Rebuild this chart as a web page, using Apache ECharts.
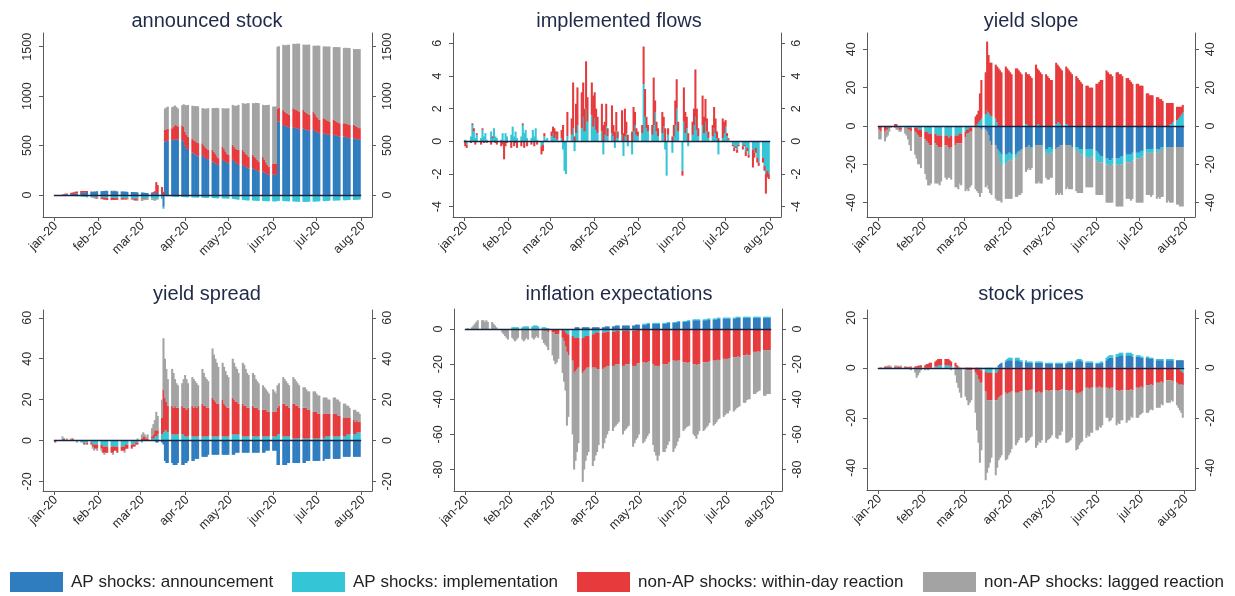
<!DOCTYPE html>
<html><head><meta charset="utf-8">
<script src="https://cdn.jsdelivr.net/npm/echarts@6/dist/echarts.min.js"></script>
<style>html,body{margin:0;padding:0;background:#fff}#c{width:1235px;height:596px}</style>
</head><body><div id="c"></div><script>
// ---------- categories / tick labels ----------
const FIRST_BUSINESS_DAY = '2020-01-02';
const LAST_BUSINESS_DAY = '2020-07-31';
const AXIS_FIRST_DAY = '2019-12-25';
const AXIS_LAST_DAY = '2020-08-08';
const monthTickDays = ['2020-01-01','2020-02-01','2020-03-01','2020-04-01','2020-05-01','2020-06-01','2020-07-01','2020-08-01'];
const monthTickLabels = ['jan-20','feb-20','mar-20','apr-20','may-20','jun-20','jul-20','aug-20'];
const SERIES_NAMES = ['AP shocks: announcement','AP shocks: implementation','non-AP shocks: within-day reaction','non-AP shocks: lagged reaction'];

// ---------- series values (one value per business day, Jan 2 - Jul 31 2020) ----------
// announced stock
const stockAnn = [0,0,
0,2,3,5,5, 8,10,12,14,15, 20,22,25,28,30, 30,32,35,35,38,
38,40,40,42,40, 40,38,40,38,36, 35,35,34,33,32, 30,30,28,28,26,
25,24,22,20,20, 20,18,18,30,20, 20,-120,540,545,550, 555,560,560,565,560,
555,540,500,470,455, 430,420,410,400,390, 405,390,375,365,355, 338,330,320,312,304,
355,345,335,328,321, 355,345,330,315,304, 304,295,285,278,270, 270,262,255,245,236,
236,228,220,210,203, 210,205,200,740,745, 709,700,695,690,686, 686,680,675,670,665,
670,665,660,655,650, 659,650,640,632,625, 625,620,615,610,608, 608,604,600,595,591,
591,588,584,578,574, 574,570,566,561,557];
const stockImp = [0,0,
0,-2,-3,-5,-5, -8,-10,-10,-12,-12, -15,-15,-18,-18,-20, -20,-22,-22,-25,-25,
-25,-25,-28,-28,-30, -30,-30,-30,-32,-32, -32,-32,-34,-34,-35, -35,-35,-36,-36,-36,
-36,-36,-37,-37,-38, -38,-38,-40,-40,-40, -40,-20,-10,-12,-14, -15,-16,-18,-18,-20,
-20,-22,-22,-24,-24, -25,-25,-26,-26,-28, -28,-28,-30,-30,-30, -30,-32,-32,-34,-34,
-35,-35,-36,-36,-38, -40,-42,-44,-46,-48, -50,-52,-54,-55,-56, -56,-58,-58,-60,-60,
-60,-62,-62,-64,-64, -65,-65,-66,-60,-60, -62,-62,-64,-64,-65, -66,-66,-68,-68,-70,
-70,-70,-70,-68,-68, -68,-66,-66,-64,-64, -62,-62,-60,-60,-58, -58,-56,-56,-55,-55,
-54,-54,-52,-52,-50, -50,-50,-48,-48,-46];
const stockWithin = [0,0,
0,2,5,8,10, 12,15,15,18,20, 20,18,15,12,10, 5,0,-5,-10,-12,
-15,-18,-20,-20,-22, -22,-20,-20,-18,-18, -15,-15,-12,-12,-10, -10,-12,-15,-15,-12,
-10,-8,-5,-5,-2, 5,10,20,100,80, 60,30,119,120,122, 120,130,150,140,135,
150,148,140,138,135, 136,134,135,133,135, 118,113,108,104,101, 118,105,95,80,68,
135,120,105,92,84, 152,140,135,145,152, 152,140,130,125,118, 135,125,118,110,102,
152,130,110,95,84, 110,112,115,135,135, 152,145,135,130,125, 192,188,185,182,180,
190,180,170,165,160, 186,170,155,145,135, 152,148,142,138,135, 152,148,142,138,135,
135,137,134,136,135, 135,130,126,122,119];
const stockLag = [0,0,
0,0,1,1,2, 2,3,3,2,2, 1,0,-2,-3,-5, -5,-8,-6,-5,-4,
-3,-2,0,2,3, 3,4,5,4,3, 2,2,1,0,0, -2,-5,-8,-10,-12,
-15,-12,-10,-8,-10, -12,-15,-20,-10,-5, 0,5,215,220,222, 214,205,195,185,180,
203,230,270,300,321, 338,345,355,365,372, 355,372,390,405,422, 422,445,465,490,506,
388,410,435,455,473, 405,420,435,445,456, 473,490,505,525,541, 524,540,560,575,591,
524,550,580,605,625, 574,578,580,625,625, 659,670,685,700,709, 652,660,670,680,685,
662,675,690,700,712, 665,690,715,735,750, 726,735,745,752,760, 736,745,755,762,770,
760,765,770,774,777, 767,775,785,792,800];

// implemented flows
const flowImp = [0.1,-0.2,
0.3,1.0,0.6,0.2,0.4, 0.2,0.7,0.3,0.5,0.1, 0.6,0.2,0.8,0.3,0.2, 0.1,0.5,0.0,0.5,0.3,
0.4,0.9,0.3,0.6,0.2, 0.3,1.0,0.5,0.7,0.2, 0.2,0.7,0.3,0.8,0.1, -0.3,-0.2,0.3,0.1,0.2,
0.3,0.5,0.2,0.4,0.1, 0.2,-0.5,-1.8,-2.0,0.3, 0.4,0.8,-0.6,0.5,1.0, 0.8,1.5,0.6,2.0,1.2,
1.6,0.9,1.4,0.7,0.5, 0.6,-0.8,0.4,0.9,0.3, 0.5,0.3,-0.4,0.6,0.2, 0.4,-0.9,0.3,0.5,-0.3,
-0.8,0.6,1.0,0.4,0.3, 0.5,3.5,1.5,0.8,0.6, 0.4,1.0,1.8,0.6,0.3, 0.5,0.9,-0.5,-2.1,0.4,
-0.7,0.3,1.0,2.0,0.6, -1.8,1.2,0.5,0.8,-0.3, 0.4,1.0,1.5,0.7,0.3, 1.0,0.5,1.2,0.6,0.2,
0.3,0.8,0.5,0.2,-0.8, 0.2,0.5,0.9,0.3,0.1, -0.2,-0.4,-0.3,-0.5,-0.2, -0.3,-0.2,-0.6,-0.4,-0.8,
-0.5,-0.7,-0.4,-1.0,-1.3, -1.0,-1.5,-2.0,-1.8,-2.0];
const flowWithin = [-0.3,-0.2,
-0.1,0.1,0.2,-0.2,0.1, -0.2,0.1,-0.1,0.0,-0.1, -0.2,0.1,0.0,-0.1,-0.2, -0.3,-0.2,-1.1,-0.3,-0.1,
-0.4,0.0,-0.3,-0.1,-0.4, -0.3,0.1,-0.4,0.0,-0.3, -0.2,0.0,-0.3,0.0,-0.2, -0.5,-0.4,0.2,0.0,0.0,
0.3,0.4,0.6,0.2,0.5, 0.5,1.0,0.0,0.0,1.5, 1.0,2.8,0.3,1.8,2.3, 2.2,2.1,1.4,2.9,1.5,
2.0,1.9,1.6,1.3,1.0, 1.7,1.0,0.8,1.4,0.5, 1.7,0.7,0.6,1.2,0.4, 1.5,0.5,1.7,0.7,0.4,
0.6,1.5,0.8,0.4,0.3, 0.5,2.3,1.7,0.7,0.4, 0.6,2.9,0.7,0.6,0.5, 1.3,0.6,0.8,0.0,0.4,
0.3,0.7,1.5,1.8,0.6, -0.3,2.1,1.3,0.7,0.5, 0.8,1.0,2.9,1.3,0.5, 1.8,1.0,1.4,0.8,0.4,
0.7,1.3,0.9,0.4,0.2, 1.2,0.7,0.4,0.2,0.1, -0.1,-0.2,-0.1,-0.2,-0.1, -0.2,-0.1,-0.3,-0.2,-0.2,
-1.1,-0.3,-0.3,-0.3,-0.2, -0.3,-0.3,-1.2,-0.4,-0.3];

// yield slope
const slopeAnn = [0,0,
0,0,0,0,0, 0,0,0,0,0, 0,0,0,0,0, 0,0,0,0,0,
0,0,0,0,0, 0,0,0,0,0, 0,0,0,0,0, 0,0,0,0,0,
0,0,0,0,0, 0,0,0,-1,-2, -2,-3,-5,-8,-10, -10,-12,-13,-14,-15,
-15,-15,-14,-14,-15, -15,-14,-13,-13,-12, -11,-11,-10,-11,-11, -10,-10,-10,-10,-10,
-12,-12,-11,-11,-12, -12,-11,-11,-10,-10, -10,-10,-10,-10,-11, -11,-11,-12,-12,-12,
-12,-12,-12,-12,-12, -13,-14,-15,-16,-16, -17,-17,-18,-18,-17, -17,-17,-17,-16,-16,
-15,-15,-15,-15,-14, -14,-14,-14,-13,-13, -12,-12,-12,-12,-12, -12,-12,-12,-11,-11,
-11,-11,-11,-11,-11, -11,-11,-11,-11,-11];
const slopeImp = [0,0,
0,0,-1,0,0, 0,0,0,-1,-1, -1,-1,-1,-1,-1, -1,-1,-2,-2,-2,
-3,-3,-4,-4,-4, -4,-5,-5,-5,-5, -5,-5,-6,-6,-5, -5,-5,-5,-4,-4,
-3,-2,-2,-1,-1, 0,1,2,3,4, 6,8,7,6,5, 4,2,-3,-5,-6,
-5,-4,-4,-3,-3, -2,-2,-1,-1,0, 1,1,0,-1,-1, 0,1,1,0,-1,
-2,-3,-4,-3,-2, 1,2,2,1,0, 1,1,0,0,-1, -1,-2,-2,-3,-3,
-4,-5,-5,-4,-4, -5,-5,-4,-3,-3, -3,-3,-3,-3,-3, -3,-3,-4,-4,-4,
-4,-4,-4,-4,-4, -3,-3,-3,-3,-3, -2,-2,-2,-2,-2, -2,-1,-1,-1,-1,
-1,0,1,1,2, 3,4,5,6,7];
const slopeWithin = [-2,-3,
-3,-2,-1,-1,0, 1,1,0,-1,-1, 0,0,-1,-1,-2, -2,-3,-3,-4,-4,
-4,-5,-5,-6,-6, -5,-5,-6,-6,-6, -5,-5,-5,-6,-6, -5,-4,-4,-5,-5,
-3,-2,-2,-2,-2, 5,5,6,14,20, 22,36,30,27,28, 28,29,30,29,28,
31,30,29,28,27, 30,30,29,28,27, 27,26,27,26,25, 32,29,28,28,27,
27,26,25,24,24, 32,30,29,29,29, 30,29,29,28,27, 26,25,24,23,22,
21,21,20,20,20, 22,22,23,24,24, 29,28,27,27,26, 28,28,27,27,26,
25,25,24,23,22, 22,22,21,21,21, 17,17,16,16,16, 15,15,14,14,13,
12,12,11,11,10, 7,6,5,4,4];
const slopeLag = [-5,-4,
-5,-4,-3,-2,-1, -1,-2,-2,-1,-1, -3,-4,-5,-8,-10, -12,-13,-15,-14,-16,
-18,-20,-22,-21,-20, -21,-20,-19,-20,-18, -17,-18,-16,-15,-17, -22,-23,-24,-21,-22,
-28,-29,-30,-29,-28, -33,-34,-35,-36,-33, -30,-28,-28,-27,-26, -28,-27,-23,-20,-19,
-18,-19,-20,-21,-20, -20,-21,-22,-22,-23, -13,-12,-12,-11,-10, -20,-20,-19,-20,-19,
-13,-13,-13,-13,-13, -24,-24,-25,-25,-26, -23,-22,-23,-23,-21, -22,-22,-21,-20,-20,
-16,-15,-15,-16,-16, -18,-17,-17,-17,-17, -20,-20,-19,-19,-20, -22,-22,-21,-22,-22,
-19,-19,-19,-20,-20, -23,-23,-23,-24,-24, -22,-22,-22,-23,-22, -24,-24,-25,-25,-25,
-28,-28,-29,-29,-29, -30,-30,-31,-31,-31];

// yield spread
const spreadAnn = [0,0,
0,0,0,0,0, 0,0,0,0,0, 0,0,0,0,0, 0,0,0,0,0,
0,0,0,0,0, 0,0,0,0,0, 0,0,0,0,0, 0,0,0,0,0,
0,0,0,0,0, 0,0,0,-1,-1, -1,-2,-10,-11,-11, -11,-12,-12,-12,-11,
-12,-12,-11,-11,-10, -10,-10,-9,-9,-9, -8,-8,-8,-8,-7, -7,-7,-7,-7,-7,
-7,-7,-7,-7,-7, -7,-7,-6,-6,-6, -6,-6,-6,-6,-6, -6,-6,-6,-6,-6,
-6,-6,-5,-5,-5, -5,-5,-5,-12,-12, -12,-12,-12,-11,-11, -11,-11,-11,-11,-11,
-11,-11,-10,-10,-10, -10,-10,-10,-10,-10, -10,-9,-9,-9,-9, -9,-9,-9,-9,-9,
-8,-8,-8,-8,-8, -8,-8,-8,-8,-8];
const spreadImp = [0,0,
0,1,0,0,0, 0,0,0,0,-1, -1,-1,-1,-1,-1, -1,-2,-2,-2,-2,
-2,-3,-3,-3,-3, -3,-3,-3,-3,-3, -3,-3,-3,-2,-2, -2,-2,-2,-1,-1,
-1,0,0,0,0, 1,1,2,2,3, 3,4,5,5,4, 3,3,3,3,3,
3,3,2,2,2, 2,2,2,2,2, 2,2,2,2,2, 2,2,2,2,2,
2,2,2,2,2, 3,3,3,3,3, 2,2,2,2,2, 2,2,2,2,2,
2,2,2,2,2, 2,2,2,3,3, 2,2,2,2,2, 1,1,1,1,1,
1,1,1,1,1, 1,1,1,1,1, 1,2,2,2,2, 2,2,2,2,2,
2,2,3,3,3, 3,3,4,4,4];
const spreadWithin = [-1,0,
0,0,1,0,0, 0,1,0,0,0, 0,0,-1,0,-1, -1,-1,-2,-2,-2,
-2,-3,-3,-3,-3, -3,-3,-2,-2,-3, -2,-2,-2,-2,-2, -2,-1,-1,-1,-1,
1,2,2,1,1, 1,2,3,3,2, 8,21,16,14,13, 14,13,14,13,13,
14,13,14,13,14, 15,14,15,14,15, 16,15,15,14,14, 19,18,17,16,16,
18,16,15,14,14, 18,17,16,16,15, 16,15,15,14,14, 15,14,14,14,13,
13,13,13,12,12, 12,12,12,13,14, 16,16,15,15,14, 17,17,16,16,15,
15,15,15,14,14, 13,13,13,12,12, 12,11,11,11,11, 11,11,11,10,10,
9,9,8,8,8, 7,6,6,5,5];
const spreadLag = [0,0,
0,1,0,0,1, 1,0,0,0,0, 0,0,0,-1,0, 0,-1,-1,0,-1,
-1,0,-1,0,0, 0,-1,0,0,0, 0,0,-1,0,0, 0,0,0,0,1,
2,2,1,1,2, 4,5,5,9,7, 9,25,19,16,13, 18,17,13,12,11,
11,14,16,15,12, 14,14,12,12,10, 17,16,14,14,13, 24,22,21,20,18,
18,18,17,16,15, 19,18,17,16,15, 20,20,18,17,16, 16,16,14,13,13,
12,11,10,10,9, 11,10,9,11,11, 13,12,12,11,11, 13,12,12,11,11,
10,10,9,9,9, 10,10,9,9,9, 8,8,8,7,7, 8,8,7,8,7,
7,7,6,6,5, 5,6,4,5,4];

// inflation expectations
const inflAnn = [0,0,
0,0,0,0,0, 0,0,0,0,0, 0,0,0,0,0, 0,0,0,0,0,
0,0,0,0,0, 0,0,0,0,0, 0,0,0,0,0, 0,0,0,0,0,
0,0,0,0,0, 0,0,0,0,0, 0,0,1,1,1, 1,1,1,1,1,
1,1,1,1,1, 1,1,1.5,1.5,1.5, 1.5,1.5,2,2,2, 2,2,2,2,2,
2,2,2.5,2.5,2.5, 2.5,2.5,2.5,3,3, 3,3,3,3,3, 3,3,3,3.5,3.5,
3.5,3.5,3.5,4,4, 4,4,4,4.5,4.5, 5,5,5,5,5, 5,5,5,5.5,5.5,
5.5,5.5,5.5,6,6, 6,6,6,6,6, 6,6,6.5,6.5,6.5, 6.5,6.5,6.5,6.5,6.5,
6.5,6.5,6.5,6.5,6.5, 6.5,6.5,6.5,6.5,6.5];
const inflImp = [0,0,
0,0,0,0,0, 0,0,0,0,0, 0,0,0,0,0, 0,0,0,0,0,
1,1,1,1,1, 1,1.5,1.5,1.5,1.5, 1.5,2,2,2,1.5, 1,1,1,0.5,0.5,
0,0,0,0,0, 0,-1,-2,-3,-3, -4,-5,-5,-5,-5, -5,-5,-4,-4,-4,
-3,-3,-2,-2,-2, -2,-2,-2,-1.5,-1.5, -1.5,-1.5,-1.5,-1,-1, -1,-1,-1,-1,-1,
-1,-1,-1,-0.5,-0.5, 0.5,0.5,0.5,0.5,0.5, 0.5,0.5,0.5,0.5,0.5, 0.5,0.5,0.5,0.5,0.5,
0.5,0.5,0.5,0.5,0.5, 0.5,0.5,0.5,0.5,0.5, 0.5,0.5,0.5,0.5,0.5, 0.5,0.5,0.5,0.5,0.5,
0.5,0.5,0.5,0.5,0.5, 0.5,0.5,0.5,0.5,0.5, 0.5,0.5,0.5,0.5,0.5, 0.5,0.5,0.5,0.5,0.5,
0.5,0.5,0.5,0.5,0.5, 0.5,0.5,0.5,0.5,0.5];
const inflWithin = [0,0,
0,0,0,0,0, 0,0,0,0,0, 0,0,0,0,0, 0,0,0,0,0,
0,0,0,0,0, 0,0,0,0,0, 0,0,0,0,0, 0,-1,-1,-1,-2,
-2,-2,-3,-3,-3, -5,-6,-8,-10,-12, -14,-20,-19,-18,-17, -20,-19,-19,-18,-18,
-19,-19,-20,-21,-21, -21,-20,-20,-19.5,-19.5, -19.5,-19.5,-18.5,-19,-19, -20,-20,-19,-19,-19,
-20,-20,-20,-19,-19, -19,-19,-19.5,-19,-18.5, -20,-21,-21,-21,-21, -20,-20,-20,-20,-19,
-18,-18,-18.5,-18,-18, -19,-19,-19,-19.5,-19, -20,-20,-20.5,-20,-20, -19,-19,-19,-19,-18.5,
-18,-18,-18,-17.5,-18, -17,-17,-17,-17,-16.5, -16,-16,-16,-15.5,-16, -15,-15,-14.5,-15,-15,
-13,-13,-13,-12.5,-13, -12,-12,-12,-12,-12];
const inflLag = [0,0.5,
1,2,3,4,5, 5,5,4,5,4, 4,3,2,1,0, -2,-3,-4,-5,-6,
-5,-6,-7,-6,-5, -6,-7,-6,-5,-6, -5,-6,-5,-4,-5, -6,-7,-8,-9,-10,
-13,-16,-17,-16,-14, -20,-23,-25,-42,-35, -42,-55,-51,-47,-43, -62,-56,-52,-50,-48,
-56,-53,-50,-47,-43, -45,-43,-40,-39,-37, -37,-35,-35,-34,-33, -39,-37,-37,-36,-35,
-46,-44,-42,-42.5,-40.5, -46,-45,-43,-42,-41, -46,-49,-51,-54,-51, -50,-50,-48,-46,-45,
-52,-50,-48,-46,-44, -39,-38,-37,-36,-36, -40,-41,-42,-40,-38, -39,-38,-37,-36,-35,
-37,-36,-35,-34,-33, -33,-32,-31,-31,-30, -31,-30,-29,-29,-28, -27,-27,-26,-25,-25,
-24,-24,-23,-23,-22, -26,-26,-25,-25,-25];

// stock prices
const eqAnn = [0,0,
0,0,0,0,0, 0,0,0,0,0, 0,0,0,0,0, 0,0,0,0,0,
0,0,0,0,0, 0,0,0,0,0, 0,0,0,0,0, 0,0,0,0,0,
0,0,0,0,0, 0,0,0,0,0, 0,0,0,0,0, 0,0,1,1.5,2,
2.5,3,3,3,3, 3,3,3,2.5,2.5, 2.5,2,2,2,2, 2,2,2,2,2,
1.5,1.5,1.5,1.5,1.5, 1.5,1.5,1.5,1.5,1.5, 1.5,2,2,2,2, 2.5,3,3,3,2.5,
2,2,2,2,2, 1.5,1.5,1.5,2,2, 3,3.5,4,4,4, 4.5,4.5,5,5,5,
5,5,5,5,4.5, 4.5,4.5,4.5,4,4, 4,4,3.5,3.5,3.5, 3,3,3,3,3,
3,3,3,3,3, 3,3,3,3,3];
const eqImp = [0,0,
0,0,0,0,0, 0,0,0,0,0, 0,0,0,0,0, 0,0,0,0,0,
0,0,0,0,0, 0.5,0.5,1,1,1, 1,1,1,1,0.5, 0.5,0,0,0,0,
0,0,0,0,0, 0,0,-0.5,-1,-1, -1.5,-2,-2,-2,-2, -2,-2,-1,-0.5,0,
0.5,0.5,1,1,1, 1,1,1,0.5,0.5, 0.5,0.5,0.5,0.5,0.5, 0.5,0.5,0.5,0.5,0.5,
0.5,0.5,0.5,0.5,0.5, 0.5,0.5,0.5,0.5,0.5, 0.5,0.5,0.5,0.5,0.5, 0.5,0.5,0.5,0.5,0.5,
0.5,0.5,0.5,0.5,0.5, 0.5,0.5,0.5,0.5,0.5, 1,1,1,1,1, 1,1,1,1,1,
1,1,1,1,1, 0.5,0.5,0.5,0.5,0.5, 0.5,0.5,0.5,0.5,0.5, 0.5,0.5,0.5,0.5,0.5,
0.5,0.5,0.5,0.5,0.5, 0,-0.5,-1,-1.5,-2];
const eqWithin = [0,0.2,
0.3,0.3,0.4,0.5,0.4, 0.4,0.5,0.3,0.4,0.5, 0.4,0.3,0.3,0.4,0.5, 0.5,0.6,0.8,0.9,1,
1,1.5,1.5,2,2, 2,2.5,2.5,2.5,2.5, 2.5,2.5,2.5,2,2, 1.5,1,0.5,0,0,
-0.5,-1,-1,-1,-1, -2,-3,-4,-5,-5, -8,-11,-11,-11,-11, -11,-11,-11,-11,-11,
-10,-10.5,-10,-10,-9.5, -10,-10,-10,-9.5,-9.5, -9,-9.5,-9,-9,-8.5, -10,-10,-9.5,-10,-10,
-9,-9,-9.5,-9,-9, -9,-9.5,-9,-9,-8.5, -9,-9,-9.5,-9,-9, -10,-10.5,-10,-10,-9.5,
-8,-8,-8.5,-8,-8, -8,-8,-7.5,-8,-8, -8,-8,-8.5,-8,-8, -9,-9,-9.5,-9,-9,
-9,-9,-9,-8.5,-9, -8,-8,-8,-7.5,-8, -7,-7,-7,-6.5,-7, -6,-6,-6,-5.5,-6,
-5,-5,-5,-5,-5.5, -6,-6,-6,-5,-5];
const eqLag = [0,0,
0.3,0.5,0.4,0.5,0.3, 0.5,0.4,0.5,0.3,0.4, 0.3,0.2,0,-0.5,-1, -2,-4,-3,-2,-1,
-1,-0.5,-1,-0.5,0, 0,0,0,0,0, 0,0,0,0,-1, -3,-6,-8,-10,-12,
-11,-12,-14,-13,-12, -16,-22,-25.5,-32,-27, -35.5,-29,-27,-25,-23, -30,-27,-25,-24.5,-24,
-27,-26,-25,-24,-23, -21,-20,-19,-18.5,-18.5, -21,-20,-20,-19,-19, -22,-21,-20,-20,-19,
-21,-20,-19,-19,-18, -19,-19,-18,-18,-17, -21,-21,-20,-20,-19, -23,-22,-21,-20,-20,
-20,-19,-19,-18,-18, -17,-17,-16,-16,-15, -12,-12,-13,-13,-12, -14,-13,-13,-12,-12,
-13,-12,-12,-11,-11, -12,-12,-11,-11,-10, -11,-11,-10,-10,-10, -10,-10,-10,-9,-9,
-9,-9,-9,-8,-8, -9,-9.5,-10,-11.5,-13];

// ---------- styling & layout ----------
const FONT = '"Liberation Sans", Arial, Helvetica, sans-serif';
const COLORS = ['#2f7dbf', '#34c6d6', '#e63a3d', '#a3a3a3'];
const AXIS_COLOR = '#5a5a5a', LABEL_COLOR = '#2b2b2b', TITLE_COLOR = '#1f2a48', ZERO_COLOR = '#1b2340';

const panels = [
  {title:'announced stock', data:[stockAnn, stockImp, stockWithin, stockLag], yMin:-223, yMax:1639, yTicks:[0,500,1000,1500], left:43, top:33, width:329, height:184, tx:207, ty:21},
  {title:'implemented flows', data:[null, flowImp, flowWithin, null], yMin:-4.63, yMax:6.63, yTicks:[-4,-2,0,2,4,6], left:453, top:33, width:328, height:184, tx:619, ty:21},
  {title:'yield slope', data:[slopeAnn, slopeImp, slopeWithin, slopeLag], yMin:-47.5, yMax:48.5, yTicks:[-40,-20,0,20,40], left:867, top:33, width:328, height:184, tx:1031, ty:21},
  {title:'yield spread', data:[spreadAnn, spreadImp, spreadWithin, spreadLag], yMin:-24.7, yMax:63.8, yTicks:[-20,0,20,40,60], left:43, top:310, width:329, height:181, tx:207, ty:294},
  {title:'inflation expectations', data:[inflAnn, inflImp, inflWithin, inflLag], yMin:-92.2, yMax:11.4, yTicks:[-80,-60,-40,-20,0], left:454, top:309, width:328, height:182, tx:619, ty:294},
  {title:'stock prices', data:[eqAnn, eqImp, eqWithin, eqLag], yMin:-48.9, yMax:23.1, yTicks:[-40,-20,0,20], left:867, top:310, width:328, height:180, tx:1031, ty:294}
];
const legendLeft = [10, 292, 577, 923];

// ---------- calendar ----------
const DAY = 86400000;
const ymd = t => new Date(t).toISOString().slice(0, 10);
const tOf = s => Date.parse(s + 'T00:00:00Z');
const axisDays = [];
for (let t = tOf(AXIS_FIRST_DAY); t <= tOf(AXIS_LAST_DAY); t += DAY) axisDays.push(ymd(t));
const bizDays = [];
for (let t = tOf(FIRST_BUSINESS_DAY); t <= tOf(LAST_BUSINESS_DAY); t += DAY) {
  const wd = new Date(t).getUTCDay();
  if (wd !== 0 && wd !== 6) bizDays.push(ymd(t));
}
const bizIndex = {}; bizDays.forEach((d, i) => bizIndex[d] = i);
const toAxis = arr => axisDays.map(d => (d in bizIndex) ? arr[bizIndex[d]] : null);
const monthLabelOf = {}; monthTickDays.forEach((d, i) => monthLabelOf[d] = monthTickLabels[i]);
const isMonth = (i, v) => v in monthLabelOf;

// sanity check of array lengths
const bad = [];
panels.forEach(p => p.data.forEach((a, k) => { if (a && a.length !== bizDays.length) bad.push(p.title + ' #' + k + ': ' + a.length); }));
if (bad.length) { const d = document.createElement('div'); d.style.cssText = 'position:absolute;left:300px;top:250px;color:red;font:14px sans-serif;z-index:9;background:#fff'; d.textContent = 'LEN ' + bizDays.length + ' | ' + bad.join(' ; '); document.body.appendChild(d); }

const grid = [], xAxis = [], yAxis = [], series = [], graphic = [];
const zeroFrom = axisDays.indexOf('2020-01-01'), zeroTo = axisDays.indexOf('2020-08-01');
panels.forEach((p, g) => {
  grid.push({left: p.left, top: p.top, width: p.width, height: p.height, containLabel: false});
  xAxis.push({
    type: 'category', gridIndex: g, data: axisDays, boundaryGap: true,
    axisLine: {show: true, onZero: false, lineStyle: {color: AXIS_COLOR, width: 1}},
    axisTick: {show: true, alignWithLabel: true, length: 4, interval: isMonth, lineStyle: {color: AXIS_COLOR}},
    axisLabel: {show: false},
    splitLine: {show: false}
  });
  ['left', 'right'].forEach(pos => yAxis.push({
    type: 'value', gridIndex: g, position: pos, min: p.yMin, max: p.yMax,
    axisLine: {show: true, onZero: false, lineStyle: {color: AXIS_COLOR, width: 1}},
    axisTick: {show: true, length: 4, customValues: p.yTicks, lineStyle: {color: AXIS_COLOR}},
    axisLabel: {customValues: p.yTicks, formatter: v => String(v), rotate: 90, fontSize: 12.5, color: LABEL_COLOR, fontFamily: FONT, margin: 9},
    splitLine: {show: false}
  }));
  p.data.forEach((arr, k) => {
    if (!arr) return;
    series.push({
      type: 'bar', name: SERIES_NAMES[k], xAxisIndex: g, yAxisIndex: 2 * g, stack: 'panel' + g,
      barWidth: 2.05, data: toAxis(arr), itemStyle: {color: COLORS[k]}, silent: true, emphasis: {disabled: true}
    });
  });
  series.push({
    type: 'line', xAxisIndex: g, yAxisIndex: 2 * g, data: [], z: 10, silent: true, symbol: 'none',
    markLine: {silent: true, symbol: 'none', animation: false, label: {show: false},
      lineStyle: {color: ZERO_COLOR, width: 1.3, type: 'solid'},
      data: [[{coord: [zeroFrom, 0]}, {coord: [zeroTo, 0]}]]}
  });
  graphic.push({type: 'text', x: p.tx, y: p.ty, style: {text: p.title, align: 'center', verticalAlign: 'middle', textAlign: 'center', textVerticalAlign: 'middle', fontSize: 20, fontFamily: FONT, fill: TITLE_COLOR}});
});

const legend = SERIES_NAMES.map((n, k) => ({
  data: [n], left: legendLeft[k], top: 572, padding: 0, itemWidth: 53, itemHeight: 20, icon: 'rect',
  selectedMode: false, textStyle: {fontSize: 17, color: '#222', fontFamily: FONT, padding: [0, 0, 0, 3]}
}));

const chart = echarts.init(document.getElementById('c'), null, {renderer: 'canvas'});
chart.setOption({animation: false, backgroundColor: '#fff', grid, xAxis, yAxis, series, legend, graphic, tooltip: {show: false}});

// month tick labels, placed at the x-axis ticks through the axis scale (rotated 45°)
const tickLabels = [];
panels.forEach((p, g) => {
  const yBase = p.top + p.height;
  monthTickDays.forEach((d, i) => {
    const x = chart.convertToPixel({xAxisIndex: g}, d);
    tickLabels.push({type: 'text', x: x + 2, y: yBase + 7, rotation: Math.PI / 4, silent: true,
      style: {text: monthTickLabels[i], align: 'right', verticalAlign: 'middle', textAlign: 'right', textVerticalAlign: 'middle',
        fontSize: 12.5, fontFamily: FONT, fill: LABEL_COLOR}});
  });
});
chart.setOption({graphic: graphic.concat(tickLabels)});
</script></body></html>
